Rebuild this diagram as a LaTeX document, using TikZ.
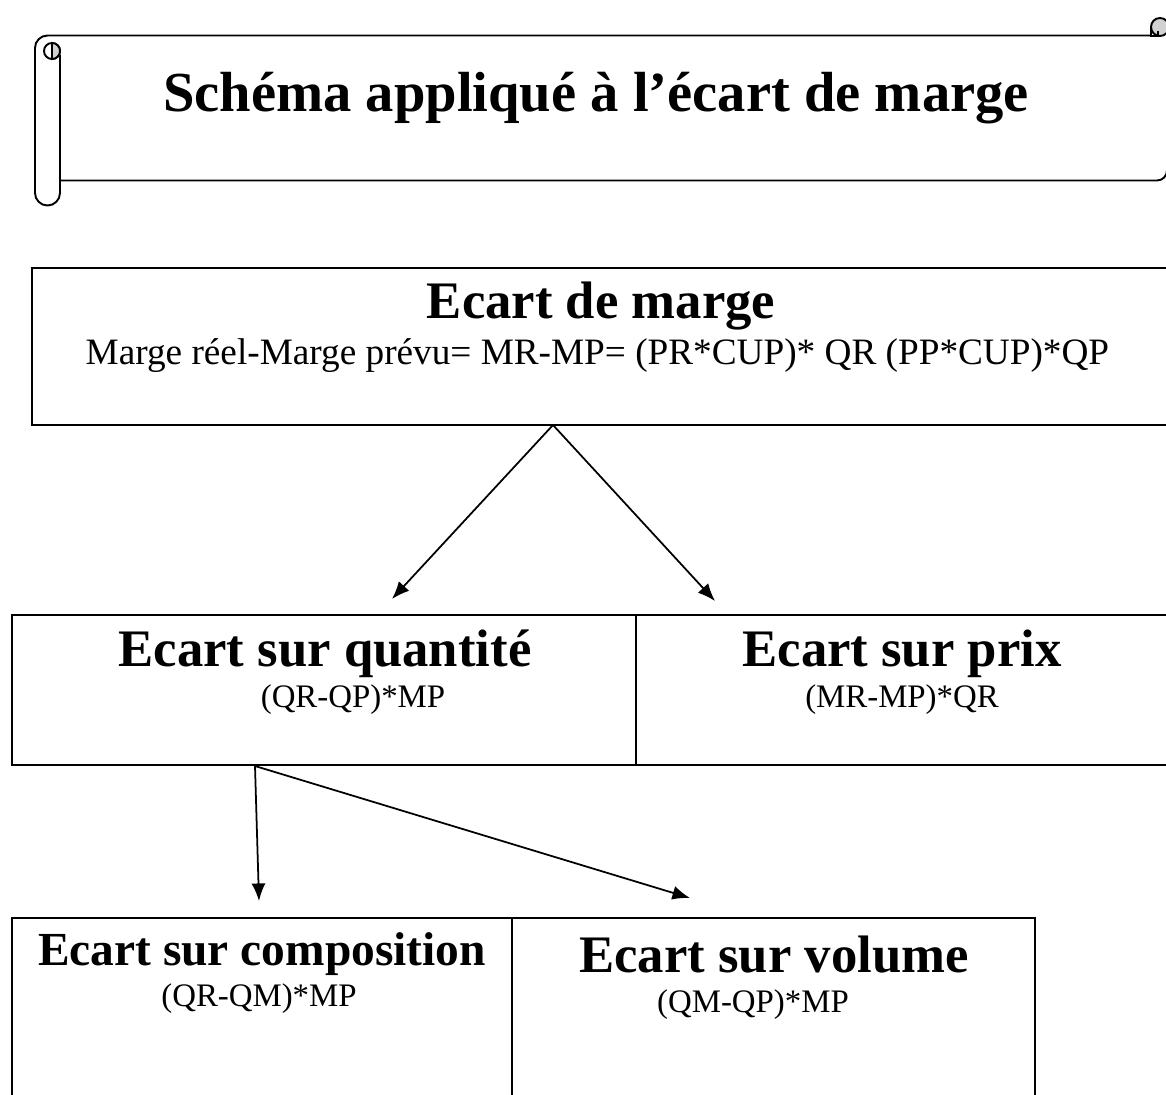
\documentclass[tikz,border=0pt]{standalone}
\usepackage{fontspec}
\setmainfont{Liberation Serif}
\usepackage{tikz}
\usetikzlibrary{arrows.meta}

\begin{document}
\begin{tikzpicture}[x=0.02cm,y=-0.02cm,
    edge/.style={line width=1.1pt},
    cell/.style={draw,line width=1.1pt,rectangle,inner sep=0pt},
    link/.style={line width=1pt,-{Latex[length=10pt,width=8pt]}},
    titre/.style={anchor=base,inner sep=0pt,font=\fontsize{32.2pt}{38pt}\selectfont\bfseries},
    tete/.style={anchor=base,inner sep=0pt,font=\fontsize{30pt}{36pt}\selectfont\bfseries},
    formule/.style={anchor=base,inner sep=0pt,font=\fontsize{18.7pt}{22pt}\selectfont}]
    \clip (0,0) rectangle (1166,1095);
    \fill[white] (0,0) rectangle (1166,1095);
    \draw[edge] (60,55) -- (60,193) arc[start angle=0,end angle=180,radius=12.5] -- (35,48) arc[start angle=180,end angle=270,radius=12.5] -- (1150,35.5);
    \filldraw[edge,fill=white] (52,51) circle (8);
    \filldraw[edge,fill=gray!35] (52,43) arc[start angle=-90,end angle=90,radius=8] -- cycle;
    \draw[edge] (60,180.5) -- (1157,180.5) arc[start angle=90,end angle=0,radius=10] -- (1167,60);
    \filldraw[edge,fill=gray!35] (1160,27) circle (9);
    \draw[edge] (1151,28) -- (1151,36) -- (1158,36) -- (1158,31);
    \node[titre] (titre) at (596,112) {Schéma appliqué à l’écart de marge};
    \node[cell,minimum width=22.96cm,minimum height=3.14cm] (marge) at (606,346.5) {};
    \node[tete] (tmarge) at (601,318) {Ecart de marge};
    \node[formule,font=\fontsize{21.2pt}{25pt}\selectfont] (fmarge) at (597.5,364) {Marge réel-Marge prévu= MR-MP= (PR*CUP)* QR (PP*CUP)*QP};
    \node[cell,minimum width=12.48cm,minimum height=3cm] (quantite) at (324,690) {};
    \node[cell,minimum width=10.88cm,minimum height=3cm] (prix) at (908,690) {};
    \node[tete] (tquantite) at (325,666) {Ecart sur quantité};
    \node[formule] (fquantite) at (353,707) {(QR-QP)*MP};
    \node[tete] (tprix) at (902,666) {Ecart sur prix};
    \node[formule] (fprix) at (902,707) {(MR-MP)*QR};
    \node[cell,minimum width=10cm,minimum height=3.84cm] (compo) at (262,1014) {};
    \node[cell,minimum width=10.46cm,minimum height=3.84cm] (volume) at (773.5,1014) {};
    \node[tete,font=\fontsize{27pt}{32pt}\selectfont\bfseries] (tcompo) at (262,965) {Ecart sur composition};
    \node[formule] (fcompo) at (259,1006) {(QR-QM)*MP};
    \node[tete] (tvolume) at (774,972) {Ecart sur volume};
    \node[formule] (fvolume) at (753,1012) {(QM-QP)*MP};
    \coordinate (pmarge) at (553,425);
    \coordinate (pquantite) at (255,766);
    \coordinate (vquantite) at (392,599);
    \coordinate (vprix) at (715,601);
    \coordinate (vcompo) at (259,901);
    \coordinate (vvolume) at (690,898);
    \draw[link] (pmarge) -- (vquantite);
    \draw[link] (pmarge) -- (vprix);
    \draw[link] (pquantite) -- (vcompo);
    \draw[link] (pquantite) -- (vvolume);
\end{tikzpicture}
\end{document}
